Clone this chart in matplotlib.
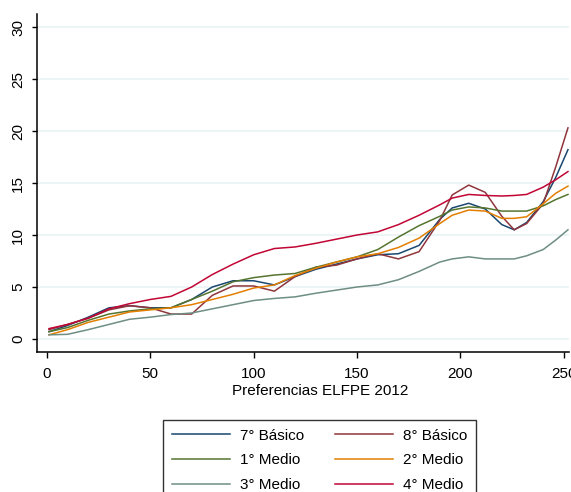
import matplotlib
matplotlib.use("Agg")
import matplotlib.pyplot as plt

plt.rcParams['font.family'] = ['Liberation Sans', 'DejaVu Sans']

# smoothed curves
x = [1, 10, 20, 30, 40, 50, 60, 70, 80, 90, 100, 110, 120, 130, 140, 150,
     160, 170, 180, 190, 196, 204, 212, 220, 226, 232, 240, 246, 252]

basico7 = [0.7, 1.3, 2.1, 3.0, 3.2, 3.0, 3.0, 3.8, 5.0, 5.6, 5.6, 5.2, 6.0, 6.7, 7.2,
           7.7, 8.1, 8.2, 9.0, 11.5, 12.6, 13.05, 12.5, 11.0, 10.5, 11.2, 13.2, 15.5, 18.2]
basico8 = [0.9, 1.4, 2.0, 2.8, 3.2, 3.0, 2.4, 2.4, 4.2, 5.1, 5.1, 4.6, 6.0, 6.9, 7.1,
           7.7, 8.2, 7.7, 8.4, 11.4, 13.85, 14.8, 14.1, 11.8, 10.5, 11.1, 13.0, 16.5, 20.3]
medio1 = [0.7, 1.1, 1.8, 2.4, 2.7, 2.9, 3.0, 3.8, 4.6, 5.5, 5.9, 6.15, 6.3, 6.9, 7.4,
          7.9, 8.6, 9.8, 10.9, 11.8, 12.4, 12.7, 12.6, 12.3, 12.3, 12.3, 12.8, 13.4, 13.9]
medio2 = [0.4, 0.9, 1.6, 2.1, 2.6, 2.8, 3.0, 3.3, 3.8, 4.3, 4.9, 5.2, 6.1, 6.8, 7.4,
          7.9, 8.2, 8.8, 9.7, 11.1, 11.9, 12.4, 12.3, 11.6, 11.6, 11.75, 13.0, 14.0, 14.7]
medio3 = [0.4, 0.45, 0.9, 1.4, 1.9, 2.1, 2.35, 2.5, 2.9, 3.3, 3.7, 3.9, 4.05, 4.4, 4.7,
          5.0, 5.2, 5.7, 6.5, 7.4, 7.7, 7.9, 7.7, 7.7, 7.7, 8.0, 8.6, 9.5, 10.5]
medio4 = [1.0, 1.4, 2.0, 2.9, 3.4, 3.8, 4.1, 5.0, 6.2, 7.2, 8.1, 8.7, 8.85, 9.2, 9.6,
          10.0, 10.3, 11.0, 11.9, 12.9, 13.55, 13.9, 13.8, 13.75, 13.8, 13.9, 14.6, 15.3, 16.1]

series = [
    ("7° Básico", basico7, "#1A476F"),
    ("8° Básico", basico8, "#90353B"),
    ("1° Medio", medio1, "#55752F"),
    ("2° Medio", medio2, "#E37E00"),
    ("3° Medio", medio3, "#6E8E84"),
    ("4° Medio", medio4, "#C10534"),
]

fig = plt.figure(figsize=(5.71, 4.92), dpi=100)
ax = fig.add_axes([37 / 571, 1 - 352 / 492, (569 - 37) / 571, (352 - 14) / 492])

handles = []
for name, vals, col in series:
    h, = ax.plot(x, vals, color=col, linewidth=1.1, label=name)
    handles.append(h)

ax.set_xlim(-4.8, 252.5)
ax.set_ylim(-1.25, 31.25)
ax.set_xticks([0, 50, 100, 150, 200, 250])
ax.set_yticks([0, 5, 10, 15, 20, 25, 30])
ax.grid(axis='y', color='#EAF2F3', linewidth=1.2)
ax.set_axisbelow(True)

for s in ['top', 'right']:
    ax.spines[s].set_visible(False)
for s in ['left', 'bottom']:
    ax.spines[s].set_linewidth(1.1)

ax.tick_params(axis='y', length=3.5, width=1, pad=5, labelsize=11, labelrotation=90)
ax.tick_params(axis='x', length=4.5, width=1, pad=6, labelsize=11)
for lab in ax.get_yticklabels():
    lab.set_va('center')

ax.set_xlabel('Preferencias ELFPE 2012', fontsize=11, labelpad=0)
ax.xaxis.set_label_coords(0.532, -0.095)

# legend fills row by row in the original
order = [0, 2, 4, 1, 3, 5]
leg = fig.legend([handles[i] for i in order], [series[i][0] for i in order],
                 loc='upper center', bbox_to_anchor=(319.5 / 571, 1 - 412 / 492),
                 ncol=2, fontsize=11, frameon=True, fancybox=False,
                 edgecolor='black', handlelength=3.8, handletextpad=0.65,
                 columnspacing=2.0, labelspacing=0.7, borderpad=0.6)
leg.get_frame().set_linewidth(1.0)

fig.savefig('out.png', dpi=100)
